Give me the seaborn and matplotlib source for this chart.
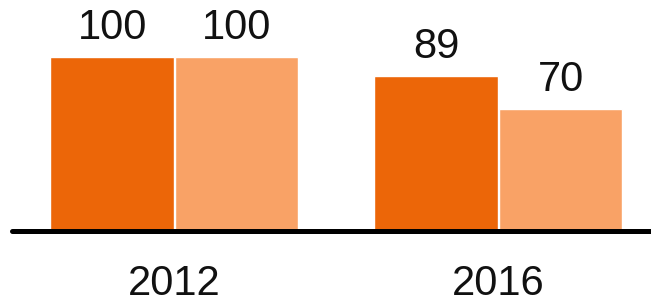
import pandas as pd
import matplotlib
matplotlib.use("Agg")
import matplotlib.pyplot as plt
import seaborn as sns

years = ["2012", "2016"]
series_a = [100, 89]
series_b = [100, 70]
series_names = ["A", "B"]
colors = ["#EC6608", "#F9A266"]

df = pd.DataFrame({
    "Year": years * 2,
    "Series": [series_names[0]] * len(years) + [series_names[1]] * len(years),
    "Value": series_a + series_b,
})

sns.set_theme(style="white")
plt.rcParams["font.family"] = ["Liberation Sans", "DejaVu Sans"]

fig = plt.figure(figsize=(6.51, 3.02), dpi=100)
ax = fig.add_axes([12 / 651, 71.5 / 302, 1 - 12 / 651, 230.5 / 302])

sns.barplot(
    data=df, x="Year", y="Value", hue="Series", palette=colors,
    width=0.77, gap=0.012, saturation=1, legend=False, ax=ax,
)

for container in ax.containers:
    ax.bar_label(container, fmt="%d", fontsize=30, padding=6.5, color="#111111")

ax.set_xlim(-0.5015, 1.4707)
ax.set_ylim(0, 132.85)
ax.axhline(0, color="black", linewidth=3.6, clip_on=False, zorder=5)
for s in ax.spines.values():
    s.set_visible(False)
ax.set_yticks([])
ax.set_xlabel("")
ax.set_ylabel("")
ax.tick_params(axis="x", length=0, pad=24, labelsize=30, labelcolor="#111111")

fig.savefig("out.png", dpi=100)
